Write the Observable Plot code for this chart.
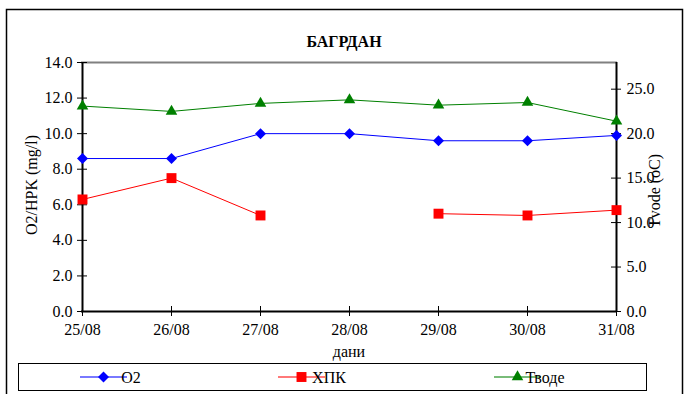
<!DOCTYPE html>
<html>
<head>
<meta charset="utf-8">
<script src="https://cdn.jsdelivr.net/npm/d3@7"></script>
<script src="https://cdn.jsdelivr.net/npm/@observablehq/plot@0.6"></script>
<style>
  html, body { margin: 0; padding: 0; background: #fff; }
  svg { display: block; }
</style>
</head>
<body>
<div id="chart"></div>
<script>
const days = ["25/08", "26/08", "27/08", "28/08", "29/08", "30/08", "31/08"];
const o2 = [8.6, 8.6, 10.0, 10.0, 9.6, 9.6, 9.9];
const xpk = [6.3, 7.5, 5.4, null, 5.5, 5.4, 5.7];
const tvode = [23.1, 22.5, 23.4, 23.8, 23.2, 23.5, 21.4];
const leftTicks = [0, 2, 4, 6, 8, 10, 12, 14];
const rightTicks = [0, 5, 10, 15, 20, 25];
const seriesNames = ["O2", "ХПК", "Тводе"];
const seriesColors = ["#0000FF", "#FF0000", "#008000"];
const title = "БАГРДАН";
const yLabel = "O2/HPK (mg/l)";
const y2Label = "Tvode (oC)";
const xLabel = "дани";

const ratio = 2; // right axis = 2 × left axis
const rows = days.map((d, i) => ({day: d, o2: o2[i], xpk: xpk[i], t: tvode[i] / ratio}));

const W = 692, H = 394;
const font = "Liberation Serif, Times New Roman, serif";

const plot = Plot.plot({
  width: W,
  height: H,
  marginLeft: 81,
  marginRight: 75,
  marginTop: 62,
  marginBottom: 83,
  style: {fontFamily: font, fontSize: "16px", color: "#000", background: "#fff"},
  x: {type: "point", domain: days, padding: 0},
  y: {domain: [0, 14]},
  marks: [
    Plot.ruleY([14], {stroke: "#808080", strokeWidth: 2}),
    Plot.ruleX([days[0]], {stroke: "#000", strokeWidth: 2}),
    Plot.ruleX([days[days.length - 1]], {stroke: "#000", strokeWidth: 2}),
    Plot.ruleY([0], {stroke: "#000", strokeWidth: 2}),
    Plot.ruleY(leftTicks, {y: d => d, x1: () => days[0], x2: () => days[0], insetLeft: -5, insetRight: -5, stroke: "#000"}),
    Plot.ruleY(rightTicks, {y: d => d / ratio, x1: () => days[days.length - 1], x2: () => days[days.length - 1], insetLeft: -5, insetRight: -5, stroke: "#000"}),
    Plot.ruleX(days, {x: d => d, y1: 0, y2: 0, insetTop: -5, insetBottom: -5, stroke: "#000"}),
    Plot.axisY({ticks: leftTicks, tickSize: 0, tickPadding: 9, tickFormat: d => d.toFixed(1), label: null, fontSize: 16}),
    Plot.axisY({anchor: "right", ticks: rightTicks.map(d => d / ratio), tickSize: 0, tickPadding: 9, tickFormat: d => (d * ratio).toFixed(1), label: null, fontSize: 16}),
    Plot.axisX({tickSize: 0, tickPadding: 12, label: null, fontSize: 16}),
    Plot.line(rows, {x: "day", y: "t", stroke: seriesColors[2], strokeWidth: 1}),
    Plot.line(rows, {x: "day", y: "o2", stroke: seriesColors[0], strokeWidth: 1}),
    Plot.line(rows, {x: "day", y: "xpk", stroke: seriesColors[1], strokeWidth: 1}),
    Plot.dot(rows, {x: "day", y: "t", symbol: "triangle", r: 4.3, fill: seriesColors[2], stroke: "none"}),
    Plot.dot(rows, {x: "day", y: "o2", symbol: "square", rotate: 45, r: 4.4, fill: seriesColors[0], stroke: "none"}),
    Plot.dot(rows.filter(d => d.xpk != null), {x: "day", y: "xpk", symbol: "square", r: 5.6, fill: seriesColors[1], stroke: "none"})
  ]
});

document.getElementById("chart").appendChild(plot);

const svg = d3.select(plot);
svg.insert("rect", ":first-child")
  .attr("x", 6.5).attr("y", 9.5).attr("width", 676).attr("height", 400)
  .attr("fill", "none").attr("stroke", "#000").attr("stroke-width", 1.5);

svg.append("text").attr("x", 344).attr("y", 47).attr("text-anchor", "middle")
  .attr("font-family", font).attr("font-size", 16).attr("font-weight", "bold").text(title);

svg.append("text").attr("transform", "translate(37,185) rotate(-90)").attr("text-anchor", "middle")
  .attr("font-family", font).attr("font-size", 16).text(yLabel);

svg.append("text").attr("transform", "translate(660,191) rotate(-90)").attr("text-anchor", "middle")
  .attr("font-family", font).attr("font-size", 16).text(y2Label);

svg.append("text").attr("x", 349).attr("y", 357).attr("text-anchor", "middle")
  .attr("font-family", font).attr("font-size", 16).text(xLabel);

const lg = svg.append("g");
lg.append("rect").attr("x", 18.5).attr("y", 363.5).attr("width", 628).attr("height", 27)
  .attr("fill", "#fff").attr("stroke", "#000").attr("stroke-width", 1);
const legendX = [80, 278, 494];
const symbols = [
  d3.symbol(d3.symbolSquare, Math.PI * 4.4 * 4.4),
  d3.symbol(d3.symbolSquare, Math.PI * 5.6 * 5.6),
  d3.symbol(d3.symbolTriangle, Math.PI * 4.3 * 4.3)
];
seriesNames.forEach((name, i) => {
  const x0 = legendX[i], cy = 377;
  lg.append("line").attr("x1", x0).attr("x2", x0 + 47).attr("y1", cy).attr("y2", cy)
    .attr("stroke", seriesColors[i]).attr("stroke-opacity", 0.7).attr("stroke-width", 1.5);
  lg.append("path").attr("d", symbols[i]())
    .attr("transform", `translate(${x0 + 23.5},${cy})` + (i === 0 ? " rotate(45)" : ""))
    .attr("fill", seriesColors[i]);
  lg.append("text").attr("x", x0 + 51).attr("y", cy + 5.5)
    .attr("font-family", font).attr("font-size", 16).text(name);
});
</script>
</body>
</html>
